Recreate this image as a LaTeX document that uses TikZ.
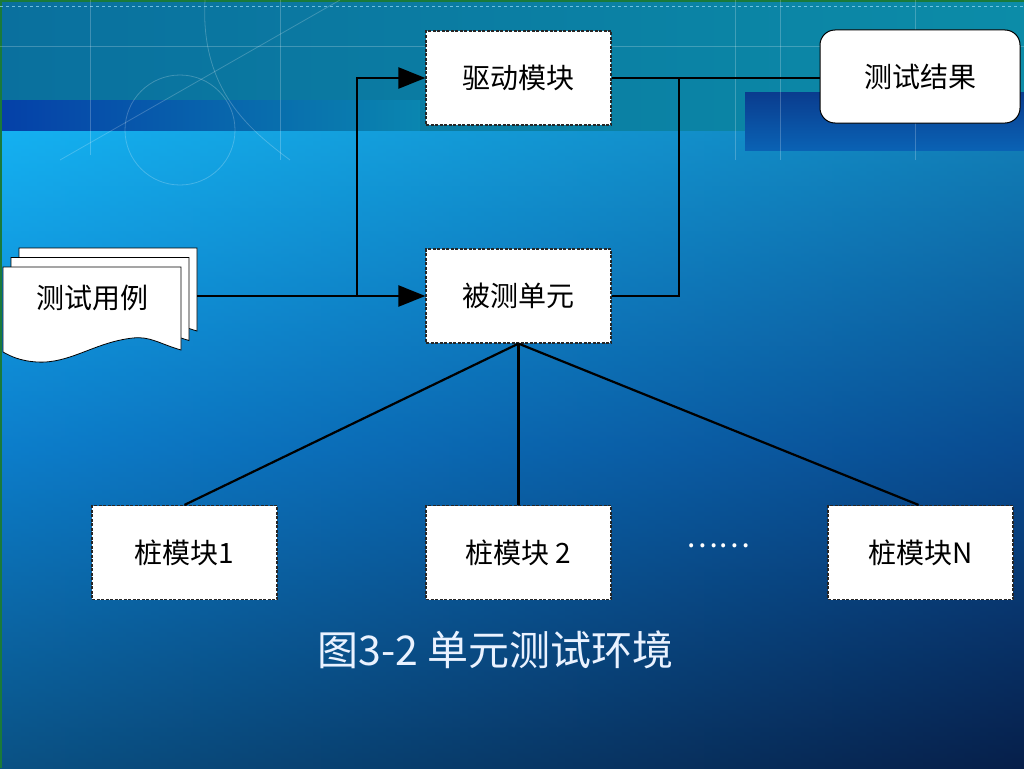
\documentclass[tikz,border=0pt]{standalone}
\usepackage{fontspec}
\setmainfont{Noto Sans CJK SC}
\usetikzlibrary{arrows.meta}
\definecolor{bandA}{HTML}{0A709E}
\definecolor{bandB}{HTML}{0C8CA8}
\definecolor{stripeA}{HTML}{0540A8}
\definecolor{stripeB}{HTML}{0A86B0}
\definecolor{navyR}{HTML}{0A3C8E}
\definecolor{hL}{HTML}{10A8EE}
\definecolor{hR}{HTML}{082A5C}
\definecolor{mainTop}{HTML}{18B8F4}
\definecolor{mainMid}{HTML}{0A62B4}
\definecolor{mainBot}{HTML}{06183E}
\definecolor{edgegreen}{HTML}{1A7A3A}
\definecolor{captioncol}{HTML}{EAF2FF}
\tikzset{
  x=1pt, y=-1pt,
  dashbox/.style={draw=black!85, fill=white, line width=1.2pt,
    dash pattern=on 3pt off 1.5pt, minimum width=185pt, minimum height=94pt,
    inner sep=0pt, font=\fontsize{28}{30}\selectfont},
  roundbox/.style={draw=black, fill=white, line width=1pt, rounded corners=15pt,
    minimum width=200pt, minimum height=93pt, inner sep=0pt,
    font=\fontsize{28}{30}\selectfont},
  conn/.style={line width=2.2pt, black},
  arr/.style={conn, -{Triangle[length=27pt,width=21pt]}},
  page/.style={draw=black, fill=white, line width=0.8pt},
  deco/.style={white, opacity=0.22, line width=0.8pt},
}
\begin{document}
\begin{tikzpicture}
\useasboundingbox (0,0) rectangle (1024,768);
% ---------- background ----------
\shade[left color=hL, right color=hR] (0,128) rectangle (1024,768);
\shade[top color=mainTop, bottom color=mainBot, middle color=mainMid, opacity=0.6] (0,128) rectangle (1024,768);
\shade[left color=bandA, right color=bandB] (0,0) rectangle (1024,130);
\shade[left color=stripeA, right color=stripeB] (0,100) rectangle (420,130);
\shade[top color=navyR, bottom color=mainMid] (745,92) rectangle (1024,150);
\fill[edgegreen] (0,0) rectangle (1024,2);
\fill[edgegreen] (0,0) rectangle (2,768);
\draw[cyan!40!white, dashed, opacity=0.7, line width=0.8pt] (0,6) -- (1024,6);
\draw[deco] (0,46) -- (1024,46);
\draw[deco] (90,0) -- (90,155);
\draw[deco] (280,0) -- (280,160);
\draw[deco] (735,0) -- (735,160);
\draw[deco] (780,0) -- (780,160);
\draw[deco] (915,0) -- (915,160);
\draw[deco] (60,160) -- (340,0);
\draw[deco] (180,130) circle (55);
\draw[deco] (205,0) .. controls (200,90) and (250,130) .. (290,160);
% ---------- document stack ----------
\foreach \dx/\dy in {16/-19, 8/-9.5, 0/0} {
  \draw[page, shift={(\dx,\dy)}] (3,267) -- (181,267) -- (181,350)
    .. controls (160,344) and (150,336) .. (133,338)
    .. controls (95,342) and (70,364) .. (37,362)
    .. controls (20,361) and (10,356) .. (3,352) -- cycle;
}
\node[font=\fontsize{28}{30}\selectfont] (doc) at (92,298) {测试用例};
\coordinate (docR) at (197,296);
% ---------- boxes ----------
\node[dashbox] (drv) at (518.5,78) {驱动模块};
\node[roundbox] (res) at (920,76.5) {测试结果};
\node[dashbox] (unit) at (518.5,296) {被测单元};
\node[dashbox] (s1) at (184.5,552.5) {桩模块1};
\node[dashbox] (s2) at (518.5,552.5) {桩模块 2};
\node[dashbox] (sn) at (920.5,552.5) {桩模块N};
\node[white, font=\fontsize{30}{32}\selectfont] (dots) at (718,546) {……};
\node[captioncol, font=\fontsize{41}{43}\selectfont, anchor=west] (cap) at (314,650) {图3-2 单元测试环境};
% ---------- connectors ----------
\coordinate (br) at (357,296);
\coordinate (jn) at (679,77);
\draw[arr] (docR) -- (unit.west);
\draw[arr] (br) |- (drv.west);
\draw[conn] (drv.east) -- (res.west |- drv.east);
\draw[conn] (unit.east) -| (jn);
\draw[conn] (unit.south) -- (s1.north);
\draw[conn] (unit.south) -- (s2.north);
\draw[conn] (unit.south) -- ([xshift=-2pt]sn.north);
\end{tikzpicture}
\end{document}
